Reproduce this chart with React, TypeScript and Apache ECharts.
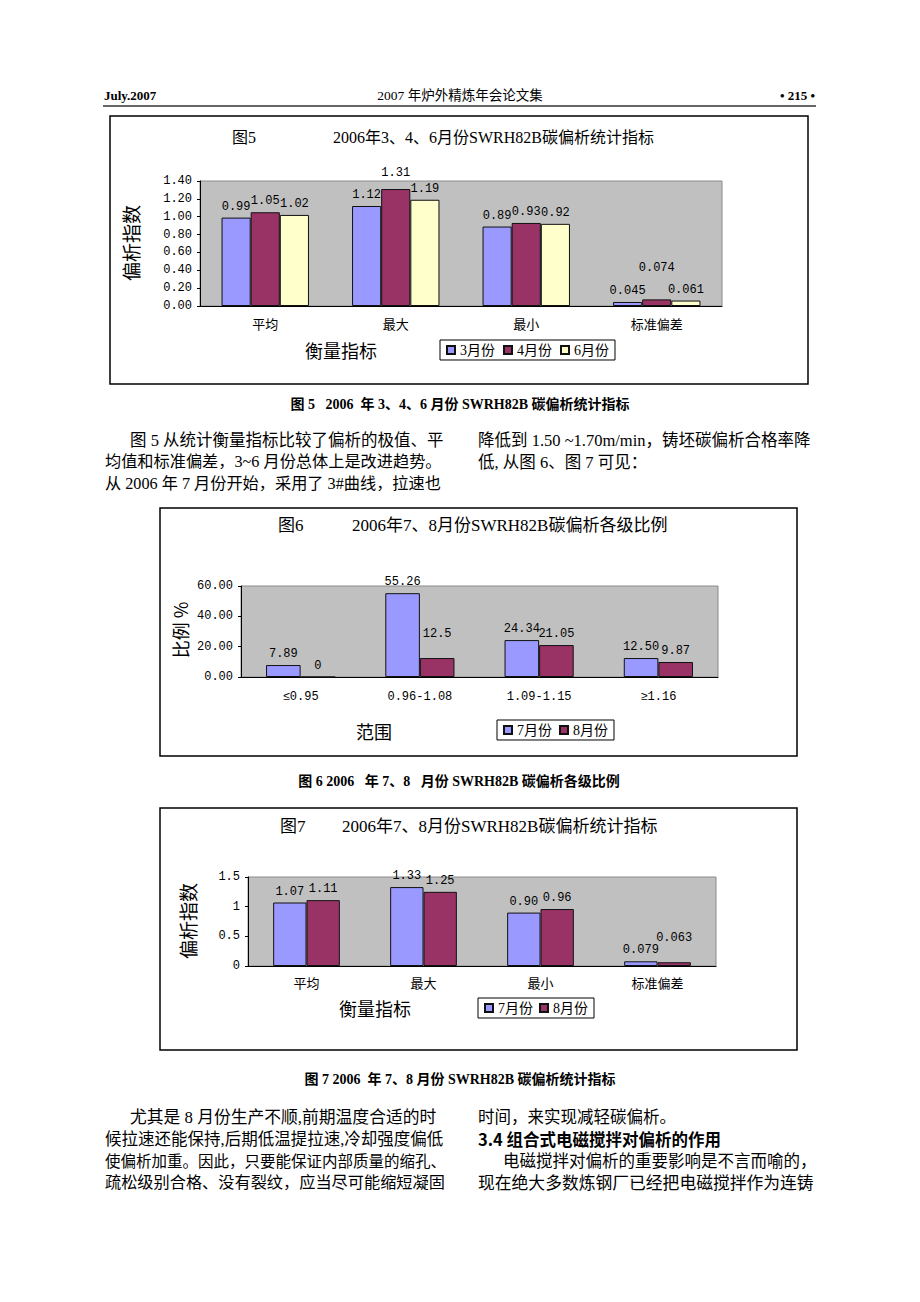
import React, { useEffect, useRef } from "react";
import * as echarts from "echarts";

// ---------- data ----------
const statCategories = ["平均", "最大", "最小", "标准偏差"];
const fig5Mar = [0.99, 1.12, 0.89, 0.045];
const fig5MarLabels = ["0.99", "1.12", "0.89", "0.045"];
const fig5Apr = [1.05, 1.31, 0.93, 0.074];
const fig5AprLabels = ["1.05", "1.31", "0.93", "0.074"];
const fig5Jun = [1.02, 1.19, 0.92, 0.061];
const fig5JunLabels = ["1.02", "1.19", "0.92", "0.061"];

const fig6Categories = ["≤0.95", "0.96-1.08", "1.09-1.15", "≥1.16"];
const fig6Jul = [7.89, 55.26, 24.34, 12.5];
const fig6JulLabels = ["7.89", "55.26", "24.34", "12.50"];
const fig6Aug = [0, 12.5, 21.05, 9.87];
const fig6AugLabels = ["0", "12.5", "21.05", "9.87"];

const fig7Jul = [1.07, 1.33, 0.9, 0.079];
const fig7JulLabels = ["1.07", "1.33", "0.90", "0.079"];
const fig7Aug = [1.11, 1.25, 0.96, 0.063];
const fig7AugLabels = ["1.11", "1.25", "0.96", "0.063"];

const fig5Legend = ["3月份", "4月份", "6月份"];
const fig67Legend = ["7月份", "8月份"];

// ---------- style ----------
const SERIF = '"Liberation Serif", "Noto Sans CJK SC", serif';
const CJK = '"Noto Sans CJK SC", sans-serif';
const MONO = '"Liberation Mono", "Noto Sans CJK SC", monospace';
const C1 = "#9999ff";
const C2 = "#993366";
const C3 = "#ffffcc";

function barSeries(
  name: string,
  values: number[],
  labels: string[],
  color: string,
  idx: number,
  gap: string,
  lift: Record<number, number> = {}
) {
  return {
    type: "bar",
    name,
    xAxisIndex: idx,
    yAxisIndex: idx,
    barGap: "0%",
    barCategoryGap: gap,
    data: values.map((v, i) =>
      lift[i] !== undefined ? { value: v, label: { offset: [0, lift[i]] } } : v
    ),
    itemStyle: { color, borderColor: "#111", borderWidth: 1 },
    label: {
      show: true,
      position: "top",
      distance: 5,
      formatter: (p: any) => labels[p.dataIndex],
      fontFamily: MONO,
      fontSize: 12,
      color: "#000",
    },
  };
}

function xAxis(idx: number, data: string[], margin: number, font: string, size: number) {
  return {
    type: "category",
    gridIndex: idx,
    data,
    axisLine: { lineStyle: { color: "#000", width: 1 } },
    axisTick: { inside: true, length: 4, lineStyle: { color: "#000" } },
    axisLabel: { color: "#000", fontSize: size, fontFamily: font, margin },
    splitLine: { show: false },
  };
}

function yAxis(idx: number, max: number, interval: number, fmt: (v: number) => string) {
  return {
    type: "value",
    gridIndex: idx,
    min: 0,
    max,
    interval,
    axisLine: { show: true, lineStyle: { color: "#000", width: 1 } },
    axisTick: { show: true, length: 3, lineStyle: { color: "#000" } },
    axisLabel: { formatter: fmt, fontFamily: MONO, fontSize: 12, color: "#000", margin: 8 },
    splitLine: { show: false },
  };
}

function grid(left: number, top: number, width: number, height: number) {
  return {
    left,
    top,
    width,
    height,
    show: true,
    backgroundColor: "#c0c0c0",
    borderColor: "#8a8a8a",
    borderWidth: 1,
  };
}

function legend(data: string[], left: number, top: number, gap: number) {
  return {
    data,
    left,
    top,
    orient: "horizontal",
    icon: "rect",
    itemWidth: 8,
    itemHeight: 8,
    itemGap: gap,
    padding: [3, 6, 3, 6],
    borderColor: "#000",
    borderWidth: 1,
    selectedMode: false,
    textStyle: { fontFamily: SERIF, fontSize: 14, color: "#000" },
  };
}

function txt(
  x: number,
  y: number,
  text: string,
  size: number,
  opts: { align?: string; weight?: string; font?: string; rot?: number } = {}
) {
  return {
    type: "text",
    x,
    y,
    rotation: opts.rot || 0,
    silent: true,
    style: {
      text,
      fontSize: size,
      fontFamily: opts.font || SERIF,
      fontWeight: opts.weight || "normal",
      fill: "#000",
      align: opts.align || "left",
      verticalAlign: "middle",
    },
  };
}

function box(x: number, y: number, w: number, h: number) {
  return {
    type: "rect",
    silent: true,
    shape: { x, y, width: w, height: h },
    style: { fill: "none", stroke: "#000", lineWidth: 1.5 },
  };
}

const graphics: any[] = [
  // header
  txt(104, 95, "July.2007", 13, { weight: "bold" }),
  txt(460, 95, "2007 年炉外精炼年会论文集", 13.5, { align: "center" }),
  txt(815, 95, "• 215 •", 13, { weight: "bold", align: "right" }),
  {
    type: "line",
    silent: true,
    shape: { x1: 103, y1: 106, x2: 816, y2: 106 },
    style: { stroke: "#666", lineWidth: 2 },
  },
  // boxes
  box(110, 116, 698, 268),
  box(160, 508, 637, 248),
  box(160, 808, 637, 242),
  // chart titles
  txt(232, 137, "图5", 16),
  txt(333, 137, "2006年3、4、6月份SWRH82B碳偏析统计指标", 16),
  txt(278, 525, "图6", 17),
  txt(352, 525, "2006年7、8月份SWRH82B碳偏析各级比例", 17),
  txt(280, 826, "图7", 17),
  txt(342, 826, "2006年7、8月份SWRH82B碳偏析统计指标", 17),
  // axis names
  txt(130, 243, "偏析指数", 19, { align: "center", font: CJK, rot: Math.PI / 2 }),
  txt(341, 350, "衡量指标", 18, { align: "center", font: CJK }),
  txt(180, 630, "比例 %", 18, { align: "center", font: CJK, rot: Math.PI / 2 }),
  txt(374, 731, "范围", 18, { align: "center", font: CJK }),
  txt(187, 921, "偏析指数", 19, { align: "center", font: CJK, rot: Math.PI / 2 }),
  txt(375, 1008, "衡量指标", 18, { align: "center", font: CJK }),
  // captions
  txt(460, 404, "图 5   2006  年 3、4、6 月份 SWRH82B 碳偏析统计指标", 14, { align: "center", weight: "bold" }),
  txt(459, 781, "图 6 2006   年 7、8   月份 SWRH82B 碳偏析各级比例", 14, { align: "center", weight: "bold" }),
  txt(460, 1079, "图 7 2006  年 7、8 月份 SWRH82B 碳偏析统计指标", 14, { align: "center", weight: "bold" }),
  // body text (upper)
  txt(130, 440, "图 5 从统计衡量指标比较了偏析的极值、平", 16.5),
  txt(105, 462, "均值和标准偏差，3~6 月份总体上是改进趋势。", 16.2),
  txt(105, 484, "从 2006 年 7 月份开始，采用了 3#曲线，拉速也", 16.2),
  txt(478, 440, "降低到 1.50 ~1.70m/min，铸坯碳偏析合格率降", 16.5),
  txt(478, 462, "低, 从图 6、图 7 可见：", 16.5),
  // body text (lower)
  txt(130, 1117, "尤其是 8 月份生产不顺,前期温度合适的时", 16.8),
  txt(105, 1139, "候拉速还能保持,后期低温提拉速,冷却强度偏低", 16.5),
  txt(105, 1161, "使偏析加重。因此，只要能保证内部质量的缩孔、", 15.5),
  txt(105, 1183, "疏松级别合格、没有裂纹，应当尽可能缩短凝固", 16.2),
  txt(478, 1117, "时间，来实现减轻碳偏析。", 16.5),
  txt(478, 1139, "3.4 组合式电磁搅拌对偏析的作用", 16.5, { weight: "bold", font: CJK }),
  txt(503, 1161, "电磁搅拌对偏析的重要影响是不言而喻的，", 16.5),
  txt(478, 1183, "现在绝大多数炼钢厂已经把电磁搅拌作为连铸", 16.8),
];

const option: any = {
  animation: false,
  backgroundColor: "#ffffff",
  grid: [grid(200, 181, 522, 125), grid(241, 586, 477, 91), grid(248, 877, 468, 89)],
  xAxis: [
    xAxis(0, statCategories, 11, CJK, 13),
    xAxis(1, fig6Categories, 14, MONO, 12),
    xAxis(2, statCategories, 10, CJK, 13),
  ],
  yAxis: [
    yAxis(0, 1.4, 0.2, (v) => v.toFixed(2)),
    yAxis(1, 60, 20, (v) => v.toFixed(2)),
    yAxis(2, 1.5, 0.5, (v) => String(v)),
  ],
  legend: [
    legend(fig5Legend, 440, 340, 8),
    legend(fig67Legend, 497, 720, 7),
    legend(fig67Legend, 478, 998, 6),
  ],
  series: [
    barSeries(fig5Legend[0], fig5Mar, fig5MarLabels, C1, 0, "33%"),
    barSeries(fig5Legend[1], fig5Apr, fig5AprLabels, C2, 0, "33%", { 1: -5, 3: -20 }),
    barSeries(fig5Legend[2], fig5Jun, fig5JunLabels, C3, 0, "33%"),
    barSeries(fig67Legend[0], fig6Jul, fig6JulLabels, C1, 1, "42%"),
    barSeries(fig67Legend[1], fig6Aug, fig6AugLabels, C2, 1, "42%", { 1: -13 }),
    barSeries(fig67Legend[0], fig7Jul, fig7JulLabels, C1, 2, "43%"),
    barSeries(fig67Legend[1], fig7Aug, fig7AugLabels, C2, 2, "43%", { 3: -13 }),
  ],
  graphic: graphics,
};

export default function App() {
  const ref = useRef<HTMLDivElement>(null);
  useEffect(() => {
    if (!ref.current) return;
    const chart = echarts.init(ref.current, null, { renderer: "svg" });
    chart.setOption(option);
    return () => chart.dispose();
  }, []);
  return (
    <div
      ref={ref}
      style={{ position: "absolute", left: 0, top: 0, width: 920, height: 1302 }}
    />
  );
}
